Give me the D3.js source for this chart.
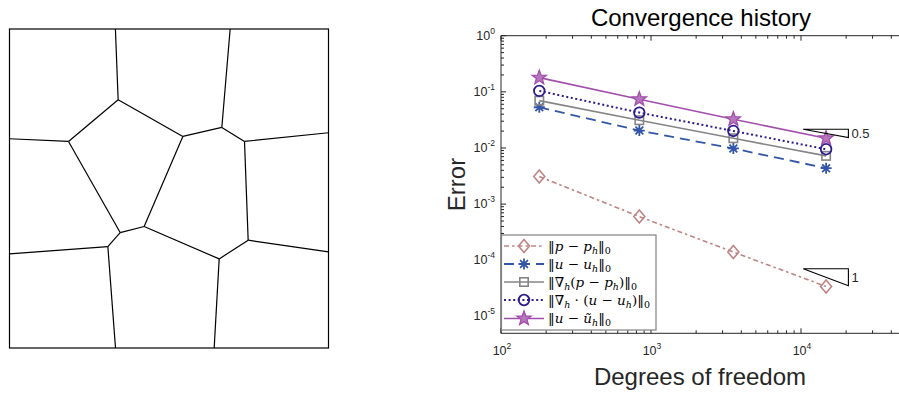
<!DOCTYPE html>
<html>
<head>
<meta charset="utf-8">
<script src="https://cdn.jsdelivr.net/npm/d3@7"></script>
<style>
body{margin:0;background:#fff;}
svg{display:block;font-family:"Liberation Sans",Arial,sans-serif;}
</style>
</head>
<body>
<svg id="c" width="899" height="394"></svg>
<script>
// ---- Data ----
const dofs = [180, 836, 3540, 14700];
const errP      = [3.1e-3, 6.0e-4, 1.40e-4, 3.42e-5];   // ||p - p_h||_0
const errU      = [0.0532, 0.0204, 0.0098, 0.00437];     // ||u - u_h||_0
const errGradP  = [0.0697, 0.0312, 0.0149, 0.00724];     // ||grad_h(p - p_h)||_0
const errDivU   = [0.104, 0.0427, 0.0201, 0.0095];       // ||div_h(u - u_h)||_0
const errUt     = [0.179, 0.074, 0.0325, 0.0149];        // ||u - ~u_h||_0
const xTickExps = [2, 3, 4];
const yTickExps = [0, -1, -2, -3, -4, -5];
const slopeTris = [{x0: 1.035e4, x1: 2.07e4, yTop: 0.0216, slope: 0.5, label: "0.5"},
                   {x0: 1.035e4, x1: 2.07e4, yTop: 7.06e-5, slope: 1, label: "1"}];
// mesh (unit square, y measured from top)
const meshVerts = {
  A:[0.332,0], B:[0.3406,0.2218], C:[0.6917,0], D:[0.6656,0.3086], E:[0.185,0.3525],
  F:[0,0.3441], G:[0.5434,0.3368], H:[0.7367,0.3525], R1:[1,0.3253], I:[0.3469,0.6381],
  J:[0.4221,0.6192], K:[0.3083,0.682], L2:[0,0.705], B1:[0.3323,1], L:[0.6573,0.7207],
  M:[0.7482,0.6621], R2:[1,0.6987], B2:[0.6416,1]
};
const meshEdges = [["A","B"],["C","D"],["B","E"],["E","F"],["B","G"],["G","D"],["D","H"],["H","R1"],
  ["E","I"],["G","J"],["I","J"],["I","K"],["K","L2"],["K","B1"],["J","L"],["L","M"],["H","M"],["M","R2"],["L","B2"]];

const svg = d3.select("#c");
const ink = "#262626";

// ---- Mesh panel ----
const mx = d3.scaleLinear().domain([0,1]).range([9.5, 328.5]);
const my = d3.scaleLinear().domain([0,1]).range([29, 348]);
const mesh = svg.append("g");
mesh.append("rect").attr("x", mx(0)).attr("y", my(0)).attr("width", mx(1)-mx(0)).attr("height", my(1)-my(0))
  .attr("fill","none").attr("stroke","#000").attr("stroke-width",1.2);
mesh.selectAll("line").data(meshEdges).join("line")
  .attr("x1", d=>mx(meshVerts[d[0]][0])).attr("y1", d=>my(meshVerts[d[0]][1]))
  .attr("x2", d=>mx(meshVerts[d[1]][0])).attr("y2", d=>my(meshVerts[d[1]][1]))
  .attr("stroke","#000").attr("stroke-width",1.2);

// ---- Convergence plot ----
const x = d3.scaleLog().domain([100, 5e4]).range([501, 501 + 150*Math.log10(500)]);
const y = d3.scaleLog().domain([5e-6, 1]).range([333.3, 35.7]);
const plot = svg.append("g");
const X0 = x.range()[0], X1 = x.range()[1], Y0 = y.range()[0], Y1 = y.range()[1];

// axes lines (box)
plot.append("path").attr("d", `M${X0},${Y1}H${X1}V${Y0}H${X0}Z`).attr("fill","none").attr("stroke",ink).attr("stroke-width",1);

// ticks
const xMinor = [], xMajor = [];
for (let e = 2; e <= 4; e++) { xMajor.push(Math.pow(10,e)); for (let k = 2; k <= 9; k++) xMinor.push(k*Math.pow(10,e)); }
const yMinor = [], yMajor = [];
for (let e = -6; e <= 0; e++) { yMajor.push(Math.pow(10,e)); for (let k = 2; k <= 9; k++) yMinor.push(k*Math.pow(10,e)); }
const tk = plot.append("g").attr("stroke",ink).attr("stroke-width",1);
xMajor.forEach(v=>{ const px=x(v); tk.append("line").attr("x1",px).attr("x2",px).attr("y1",Y0).attr("y2",Y0-5);
  tk.append("line").attr("x1",px).attr("x2",px).attr("y1",Y1).attr("y2",Y1+5); });
xMinor.filter(v=>v<5e4).forEach(v=>{ const px=x(v); tk.append("line").attr("x1",px).attr("x2",px).attr("y1",Y0).attr("y2",Y0-3);
  tk.append("line").attr("x1",px).attr("x2",px).attr("y1",Y1).attr("y2",Y1+3); });
yMajor.filter(v=>v>=5e-6&&v<=1).forEach(v=>{ const py=y(v); tk.append("line").attr("x1",X0).attr("x2",X0+5).attr("y1",py).attr("y2",py); });
yMinor.filter(v=>v>=5e-6&&v<1).forEach(v=>{ const py=y(v); tk.append("line").attr("x1",X0).attr("x2",X0+3).attr("y1",py).attr("y2",py); });

// tick labels
xTickExps.forEach(e=>{
  const t = plot.append("text").attr("x", x(Math.pow(10,e))+1).attr("y", 355).attr("text-anchor","middle")
    .attr("fill",ink).attr("font-size",12.5);
  t.append("tspan").text("10");
  t.append("tspan").attr("dy",-6).attr("font-size",8.5).text(e);
});
yTickExps.forEach(e=>{
  const t = plot.append("text").attr("x", 495).attr("y", y(Math.pow(10,e))+4).attr("text-anchor","end")
    .attr("fill",ink).attr("font-size",12.5);
  t.append("tspan").text("10");
  t.append("tspan").attr("dy",-6).attr("font-size",8.5).text(e === 0 ? "0" : "-" + (-e));
});

// titles
svg.append("text").attr("x", 701).attr("y", 26).attr("text-anchor","middle").attr("fill","#000")
  .attr("font-size",24).text("Convergence history");
svg.append("text").attr("x", 700).attr("y", 385).attr("text-anchor","middle").attr("fill",ink)
  .attr("font-size",24).text("Degrees of freedom");
svg.append("text").attr("transform", `translate(465,${(Y0+Y1)/2}) rotate(-90)`).attr("text-anchor","middle").attr("fill",ink)
  .attr("font-size",24).text("Error");

// marker shapes
function marker(g, type, cx, cy, col){
  if (type === "diamond") {
    g.append("path").attr("d", `M${cx},${cy-6.5}L${cx+5.5},${cy}L${cx},${cy+6.5}L${cx-5.5},${cy}Z`)
      .attr("fill","none").attr("stroke",col).attr("stroke-width",1.6);
  } else if (type === "asterisk") {
    const r = 5.5, s = r*0.7071;
    g.append("path").attr("d", `M${cx-r},${cy}H${cx+r}M${cx},${cy-r}V${cy+r}M${cx-s},${cy-s}L${cx+s},${cy+s}M${cx-s},${cy+s}L${cx+s},${cy-s}`)
      .attr("stroke",col).attr("stroke-width",1.8).attr("fill","none");
  } else if (type === "square") {
    g.append("rect").attr("x",cx-4.2).attr("y",cy-4.2).attr("width",8.4).attr("height",8.4)
      .attr("fill","none").attr("stroke",col).attr("stroke-width",1.6);
  } else if (type === "circle") {
    g.append("circle").attr("cx",cx).attr("cy",cy).attr("r",5.3).attr("fill","none").attr("stroke",col).attr("stroke-width",1.8);
  } else if (type === "star") {
    const pts = [];
    for (let i = 0; i < 10; i++) { const a = -Math.PI/2 + i*Math.PI/5; const r = i%2===0 ? 7.5 : 3.1;
      pts.push([cx + r*Math.cos(a), cy + r*Math.sin(a)]); }
    g.append("path").attr("d", "M" + pts.map(p=>p.join(",")).join("L") + "Z")
      .attr("fill","#b776bd").attr("stroke",col).attr("stroke-width",1.3);
  }
}

const series = [
  {vals: errP, col:"#bf8585", dash:"5,3,2.5,3", m:"diamond", w:1.6},
  {vals: errU, col:"#3456a8", dash:"10,6", m:"asterisk", w:1.8},
  {vals: errGradP, col:"#858585", dash:null, m:"square", w:1.6},
  {vals: errDivU, col:"#2e1c8e", dash:"2,2.6", m:"circle", w:2},
  {vals: errUt, col:"#a24fab", dash:null, m:"star", w:1.6}
];
const line = d3.line().x(d=>x(d[0])).y(d=>y(d[1]));
series.forEach(s=>{
  const g = plot.append("g");
  const pts = dofs.map((d,i)=>[d, s.vals[i]]);
  g.append("path").attr("d", line(pts)).attr("fill","none").attr("stroke",s.col).attr("stroke-width",s.w)
    .attr("stroke-dasharray", s.dash);
  pts.forEach(p=>marker(g, s.m, x(p[0]), y(p[1]), s.col));
});

// slope triangles
slopeTris.forEach(t=>{
  const yBot = t.yTop * Math.pow(t.x1/t.x0, -t.slope);
  plot.append("path").attr("d", `M${x(t.x0)},${y(t.yTop)}H${x(t.x1)}V${y(yBot)}Z`)
    .attr("fill","none").attr("stroke","#000").attr("stroke-width",1.1);
  plot.append("text").attr("x", x(t.x1)+3).attr("y", (y(t.yTop)+y(yBot))/2 + 5)
    .attr("fill",ink).attr("font-size",13).text(t.label);
});

// legend
const lg = plot.append("g");
lg.append("rect").attr("x",501.5).attr("y",235).attr("width",154.5).attr("height",95)
  .attr("fill","#fff").attr("stroke","#808080").attr("stroke-width",1.2);
const rowY = [246, 264, 282, 300, 318.5];
const serif = '"DejaVu Serif","Liberation Serif",serif';
const labels = [
  [["‖",0],["p",1],[" − ",0],["p",1],["h",2],["‖",0],["0",3]],
  [["‖",0],["u",1],[" − ",0],["u",1],["h",2],["‖",0],["0",3]],
  [["‖∇",0],["h",2],["(",0],["p",1],[" − ",0],["p",1],["h",2],[")‖",0],["0",3]],
  [["‖∇",0],["h",2],[" · (",0],["u",1],[" − ",0],["u",1],["h",2],[")‖",0],["0",3]],
  [["‖",0],["u",1],[" − ",0],["ũ",1],["h",2],["‖",0],["0",3]]
];
series.forEach((s,i)=>{
  const cy = rowY[i];
  lg.append("line").attr("x1",504).attr("x2",544).attr("y1",cy).attr("y2",cy)
    .attr("stroke",s.col).attr("stroke-width",s.w).attr("stroke-dasharray",s.dash);
  marker(lg, s.m, 524, cy, s.col);
  const t = lg.append("text").attr("x",548).attr("y",cy+4.5).attr("fill","#000").attr("font-family",serif).attr("font-size",13.5);
  let sub = false;
  labels[i].forEach(([str,k])=>{
    const ts = t.append("tspan").text(str);
    if (k===1) ts.attr("font-style","italic");
    if (k===2||k===3) { ts.attr("font-size",9.5).attr("dy", sub?0:3); if(k===2) ts.attr("font-style","italic"); sub = true; }
    else if (sub) { ts.attr("dy",-3); sub = false; }
  });
});
</script>
</body>
</html>
